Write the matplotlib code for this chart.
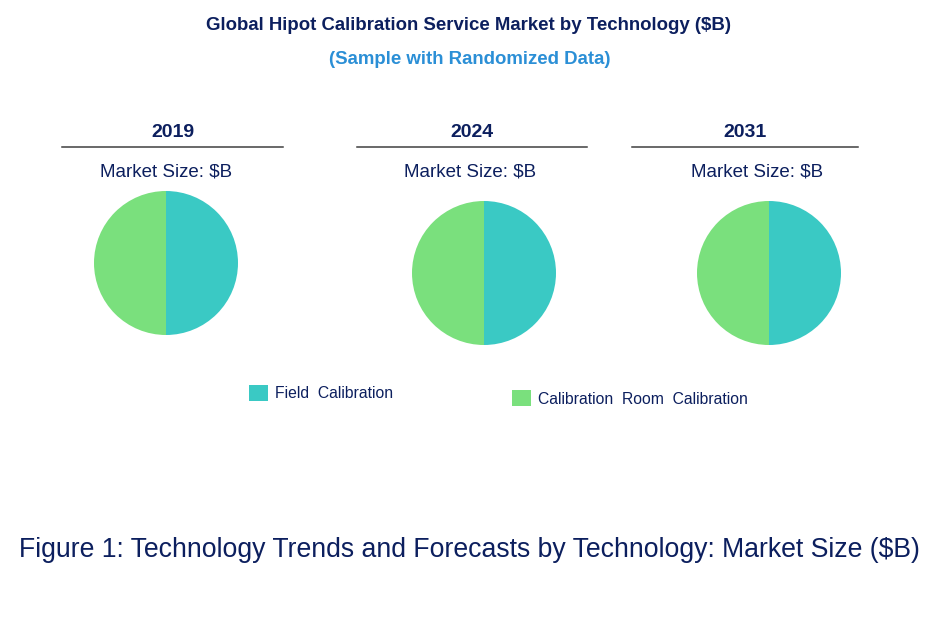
import matplotlib.pyplot as plt
from matplotlib.patches import Rectangle

W, H = 936, 621

years = ["2019", "2024", "2031"]
technologies = ["Field  Calibration", "Calibration  Room  Calibration"]
field_calibration = [50, 50, 50]
room_calibration = [50, 50, 50]
colors = ["#3ac9c4", "#7ae07d"]

NAVY = "#0c1f5e"
BLUE = "#2b8fd6"

plt.rcParams['font.family'] = ['Liberation Sans', 'DejaVu Sans']

fig = plt.figure(figsize=(W / 100, H / 100), dpi=100)
bg = fig.add_axes([0, 0, 1, 1])
bg.set_xlim(0, W)
bg.set_ylim(H, 0)
bg.axis('off')


def px_axes(x0, y0, x1, y1):
    # pixel box (top-left origin) -> figure axes
    return fig.add_axes([x0 / W, 1 - y1 / H, (x1 - x0) / W, (y1 - y0) / H])


bg.text(468, 26, "Global Hipot Calibration Service Market by Technology ($B)",
        ha='center', va='center', fontsize=13.4, fontweight='bold', color=NAVY)
bg.text(470, 60, "(Sample with Randomized Data)",
        ha='center', va='center', fontsize=13.4, fontweight='bold', color=BLUE)

# per-year panels: header centre, rule extent, pie centre
heads = [173, 472, 745]
subs = [166, 470, 757]
rules = [(62, 283), (357, 587), (632, 858)]
pie_centres = [(166, 263), (484, 273), (769, 273)]
R = 72

for i, yr in enumerate(years):
    bg.text(heads[i], 132.5, yr, ha='center', va='center',
            fontsize=14, fontweight='bold', color=NAVY)
    bg.plot(rules[i], [147, 147], color='#404040', lw=1.1)
    bg.text(subs[i], 172, "Market Size: $B", ha='center', va='center',
            fontsize=13.5, color=NAVY)

    cx, cy = pie_centres[i]
    ax = px_axes(cx - R, cy - R, cx + R, cy + R)
    ax.pie([field_calibration[i], room_calibration[i]], colors=colors,
           startangle=90, counterclock=False, radius=1)
    ax.set_xlim(-1, 1)
    ax.set_ylim(-1, 1)
    ax.set_aspect('auto')
    ax.axis('off')

# legend
legend_pos = [(249, 385), (512, 390)]
for (lx, ly), name, c in zip(legend_pos, technologies, colors):
    bg.add_patch(Rectangle((lx, ly), 19, 16, color=c, lw=0))
    bg.text(lx + 26, ly + 9, name, ha='left', va='center', fontsize=11.3, color=NAVY)

bg.text(469, 550, "Figure 1: Technology Trends and Forecasts by Technology: Market Size ($B)",
        ha='center', va='center', fontsize=19.2, color=NAVY)

fig.savefig("out.png", dpi=100)
